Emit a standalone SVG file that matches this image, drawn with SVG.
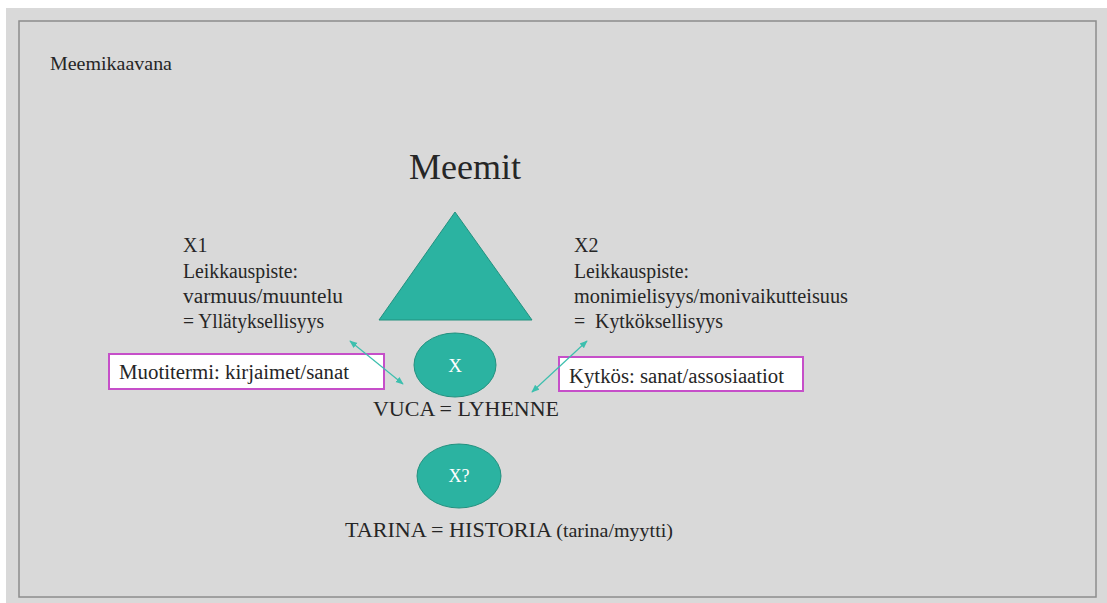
<svg xmlns="http://www.w3.org/2000/svg" width="1107" height="603" viewBox="0 0 1107 603">
<defs>
<style>
text{font-family:"Liberation Serif","Times New Roman",serif;fill:#262626;white-space:pre}
.t{font-size:20px}
.teal{fill:#2bb3a1;stroke:#23917f;stroke-width:1}
.box{fill:#fff;stroke:#c64fc9;stroke-width:2}
.arr{stroke:#3dbfae;stroke-width:1.2;fill:none;marker-start:url(#ah);marker-end:url(#ah)}
</style>
<marker id="ah" viewBox="0 0 10 10" refX="9" refY="5" markerWidth="8" markerHeight="8" orient="auto-start-reverse" markerUnits="userSpaceOnUse">
<path d="M0,1 L10,5 L0,9 Z" fill="#3dbfae"/>
</marker>
</defs>
<rect x="0" y="0" width="1107" height="603" fill="#fff"/>
<rect x="6" y="8" width="1101" height="595" fill="#d9d9d9"/>
<rect x="19" y="21" width="1077" height="576" fill="none" stroke="#8c8c8c" stroke-width="1.5"/>
<g id="title"><text x="50" y="70" style="font-size:18px" textLength="122" lengthAdjust="spacingAndGlyphs">Meemikaavana</text></g>
<g id="meemit"><text x="409" y="179" style="font-size:35px" textLength="112" lengthAdjust="spacingAndGlyphs">Meemit</text></g>
<g id="triangle"><polygon class="teal" points="455,212 379,320 532,320"/></g>
<g id="x1"><text class="t" x="183" y="252">X1</text><text class="t" x="183" y="278" textLength="115" lengthAdjust="spacingAndGlyphs">Leikkauspiste:</text><text class="t" x="183" y="303" textLength="160" lengthAdjust="spacingAndGlyphs">varmuus/muuntelu</text><text class="t" x="183" y="328" textLength="141" lengthAdjust="spacingAndGlyphs">= Yllätyksellisyys</text></g>
<g id="x2"><text class="t" x="574" y="252">X2</text><text class="t" x="574" y="278" textLength="115" lengthAdjust="spacingAndGlyphs">Leikkauspiste:</text><text class="t" x="574" y="303" textLength="274" lengthAdjust="spacingAndGlyphs">monimielisyys/monivaikutteisuus</text><text class="t" x="574" y="328" textLength="149" lengthAdjust="spacingAndGlyphs">=  Kytköksellisyys</text></g>
<g id="box1"><rect class="box" x="109" y="354" width="275" height="35"/><text class="t" x="119" y="379" textLength="230" lengthAdjust="spacingAndGlyphs">Muotitermi: kirjaimet/sanat</text></g>
<g id="box2"><rect class="box" x="559" y="357" width="244" height="34"/><text class="t" x="569" y="383" textLength="215" lengthAdjust="spacingAndGlyphs">Kytkös: sanat/assosiaatiot</text></g>
<g id="x"><ellipse class="teal" cx="455" cy="365" rx="41" ry="32"/><text x="455" y="372" text-anchor="middle" style="font-size:19px;fill:#fff">X</text></g>
<g id="vuca"><text x="373" y="416" style="font-size:21px" textLength="186" lengthAdjust="spacingAndGlyphs">VUCA = LYHENNE</text></g>
<g id="xq"><ellipse class="teal" cx="459" cy="476" rx="42" ry="32"/><text x="459" y="482" text-anchor="middle" style="font-size:18px;fill:#fff">X?</text></g>
<g id="tarina"><text x="345" y="537" style="font-size:21px" textLength="328" lengthAdjust="spacingAndGlyphs">TARINA = HISTORIA <tspan style="font-size:19px">(tarina/myytti)</tspan></text></g>
<g id="connectors"><line class="arr" x1="350" y1="341" x2="403" y2="384"/><line class="arr" x1="587" y1="341" x2="532" y2="392"/></g>
</svg>
